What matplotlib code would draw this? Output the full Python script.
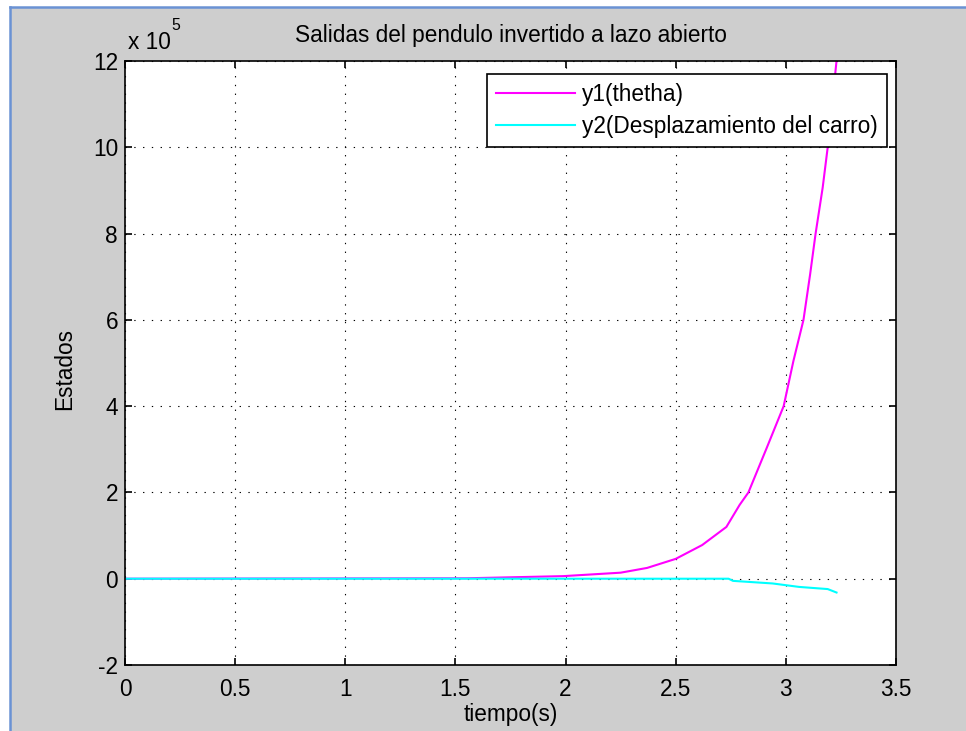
import numpy as np
import matplotlib
matplotlib.use('Agg')
import matplotlib.pyplot as plt
from matplotlib.patches import Rectangle
from matplotlib.lines import Line2D

# Salidas del pendulo invertido a lazo abierto (valores en unidades de 1e5)
t_theta = [0, 1.55, 1.99, 2.12, 2.25, 2.37, 2.5, 2.62, 2.73, 2.79, 2.83, 2.913, 2.99,
           3.034, 3.08, 3.11, 3.135, 3.167, 3.19, 3.23]
y_theta = [0, 0.01, 0.06, 0.1, 0.14, 0.25, 0.46, 0.78, 1.2, 1.71, 2.0, 3.03, 4.0,
           5.04, 6.0, 7.05, 8.0, 9.06, 10.0, 12.0]

t_carro = [0, 2.74, 2.76, 2.94, 3.06, 3.19, 3.23]
y_carro = [0, 0, -0.05, -0.11, -0.19, -0.24, -0.32]

escala = 1e5
xticks = [0, 0.5, 1, 1.5, 2, 2.5, 3, 3.5]
yticks = [-2, 0, 2, 4, 6, 8, 10, 12]

plt.rcParams['font.family'] = ['Liberation Sans', 'DejaVu Sans']
fs = 16.3

fig = plt.figure(figsize=(9.66, 7.31), dpi=100)
fig.patch.set_facecolor('white')
W, H = 966, 731
fig.add_artist(Rectangle((10 / W, 0), 1, 1 - 7 / H, transform=fig.transFigure,
                         facecolor='#cecece', edgecolor='none', zorder=-10))
fig.add_artist(Line2D([10 / W, 10 / W], [0, 1 - 7 / H], transform=fig.transFigure,
                      color='#6a92d4', lw=1.8))
fig.add_artist(Line2D([10 / W, 1], [1 - 7 / H, 1 - 7 / H], transform=fig.transFigure,
                      color='#6a92d4', lw=1.8))

ax = fig.add_axes([125 / W, 66 / H, 771 / W, 604 / H])
ax.set_facecolor('white')

y1 = np.array(y_theta) * escala
y2 = np.array(y_carro) * escala
ax.plot(t_theta, y1 / escala, color='#ff00ff', lw=1.5, label='y1(thetha)')
ax.plot(t_carro, y2 / escala, color='#00ffff', lw=1.5, label='y2(Desplazamiento del carro)')

ax.set_xlim(0, 3.5)
ax.set_ylim(-2, 12)
ax.set_xticks(xticks)
ax.set_xticklabels(['0', '0.5', '1', '1.5', '2', '2.5', '3', '3.5'])
ax.set_yticks(yticks)
ax.set_yticklabels([str(v) for v in yticks])
ax.tick_params(direction='in', length=5, width=1.2, labelsize=fs,
               top=True, right=True)
ax.tick_params(axis='x', pad=9)
ax.tick_params(axis='y', pad=5)
for s in ax.spines.values():
    s.set_linewidth(1.2)

ax.grid(True, color='black', linestyle=(0, (1.2, 6.7)), lw=0.8)
ax.set_axisbelow(True)

ax.set_title('Salidas del pendulo invertido a lazo abierto', fontsize=fs, pad=14)
ax.set_xlabel('tiempo(s)', fontsize=fs)
ax.xaxis.set_label_coords(0.5, -0.063)
ax.set_ylabel('Estados', fontsize=fs)
ax.yaxis.set_label_coords(-0.064, 0.49)

ax.text(0.004, 1.03, 'x 10', transform=ax.transAxes, fontsize=fs, ha='left', va='center')
ax.text(0.06, 1.058, '5', transform=ax.transAxes, fontsize=fs * 0.7, ha='left', va='center')

leg = ax.legend(loc='upper right', bbox_to_anchor=(0.988, 0.9785), borderaxespad=0,
                fontsize=fs, fancybox=False, framealpha=1, edgecolor='black',
                handlelength=3.5, handletextpad=0.3, borderpad=0.4, labelspacing=0.38)
leg.get_frame().set_linewidth(1.2)

fig.savefig('out.png', dpi=100, facecolor=fig.get_facecolor())
